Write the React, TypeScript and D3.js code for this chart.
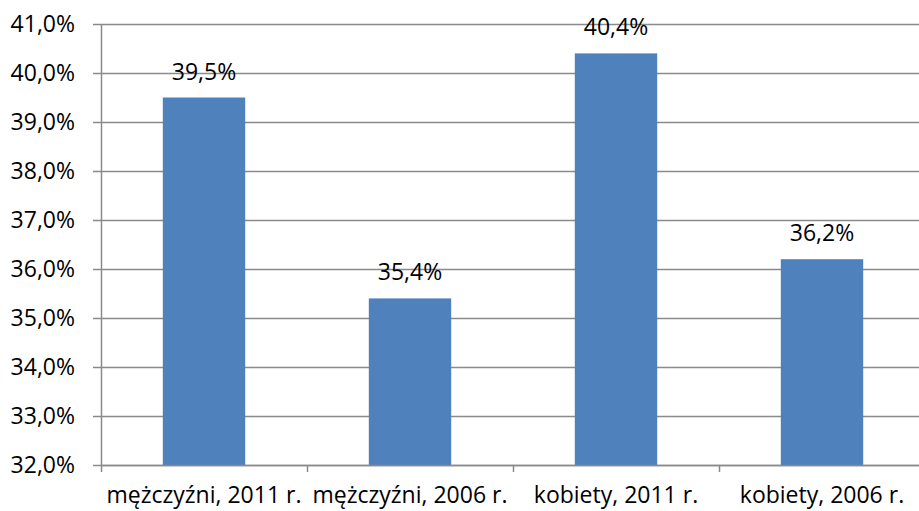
import { useEffect, useRef } from 'react';
import * as d3 from 'd3';

const categories = ['mężczyźni, 2011 r.', 'mężczyźni, 2006 r.', 'kobiety, 2011 r.', 'kobiety, 2006 r.'];
const values = [39.5, 35.4, 40.4, 36.2];
const yTicks = [32, 33, 34, 35, 36, 37, 38, 39, 40, 41];

function App() {
  const ref = useRef<SVGSVGElement>(null);

  useEffect(() => {
    drawChart();
    // eslint-disable-next-line
  }, []);

  function drawChart() {
    const config = { width: 919, height: 511, left: 101, top: 24, bottom: 465, right: 925 };
    const font = '"Open Sans", sans-serif';
    const fontSize = '23px';
    const svg = d3.select(ref.current);
    svg.selectAll('*').remove();

    const xScale = d3.scaleBand<string>()
      .domain(categories)
      .range([config.left, config.right])
      .paddingInner(0.6)
      .paddingOuter(0.3);

    const yScale = d3.scaleLinear()
      .domain([32, 41])
      .range([config.bottom, config.top]);

    const fmt = (v: number) => v.toFixed(1).replace('.', ',') + '%';

    // gridlines + y ticks
    const grid = svg.append('g');
    grid.selectAll('line.grid')
      .data(yTicks)
      .join('line')
      .attr('x1', config.left - 8)
      .attr('x2', config.right)
      .attr('y1', d => yScale(d) + 0.5)
      .attr('y2', d => yScale(d) + 0.5)
      .attr('stroke', '#8a8a8a')
      .attr('stroke-width', 1.5);

    grid.selectAll('text')
      .data(yTicks)
      .join('text')
      .attr('x', 75)
      .attr('y', d => yScale(d))
      .attr('dy', '0.36em')
      .attr('text-anchor', 'end')
      .style('font-family', font)
      .style('font-size', fontSize)
      .attr('fill', '#000')
      .text(d => fmt(d));

    // y axis line
    svg.append('line')
      .attr('x1', config.left + 0.5).attr('x2', config.left + 0.5)
      .attr('y1', config.top).attr('y2', config.bottom)
      .attr('stroke', '#8a8a8a').attr('stroke-width', 1.5);

    // bars
    svg.append('g')
      .selectAll('rect')
      .data(values)
      .join('rect')
      .attr('x', (_, i) => xScale(categories[i])!)
      .attr('width', xScale.bandwidth())
      .attr('y', d => yScale(d))
      .attr('height', d => config.bottom - yScale(d))
      .attr('fill', '#4f81bd');

    // value labels
    svg.append('g')
      .selectAll('text')
      .data(values)
      .join('text')
      .attr('x', (_, i) => xScale(categories[i])! + xScale.bandwidth() / 2)
      .attr('y', d => yScale(d) - 18)
      .attr('text-anchor', 'middle')
      .style('font-family', font)
      .style('font-size', fontSize)
      .attr('fill', '#000')
      .text(d => fmt(d));

    // x axis
    const step = (config.right - config.left) / categories.length;
    const xTicks = d3.range(categories.length + 1).map(i => config.left + i * step);
    svg.append('line')
      .attr('x1', config.left).attr('x2', config.right)
      .attr('y1', config.bottom + 0.5).attr('y2', config.bottom + 0.5)
      .attr('stroke', '#8a8a8a').attr('stroke-width', 1.5);
    svg.append('g')
      .selectAll('line')
      .data(xTicks)
      .join('line')
      .attr('x1', d => d + 0.5).attr('x2', d => d + 0.5)
      .attr('y1', config.bottom).attr('y2', config.bottom + 7)
      .attr('stroke', '#8a8a8a').attr('stroke-width', 1.5);

    svg.append('g')
      .selectAll('text')
      .data(categories)
      .join('text')
      .attr('x', d => xScale(d)! + xScale.bandwidth() / 2)
      .attr('y', 503)
      .attr('text-anchor', 'middle')
      .style('font-family', font)
      .style('font-size', fontSize)
      .attr('fill', '#000')
      .text(d => d);
  }

  return (
    <svg ref={ref} width={919} height={511}
      style={{ position: 'absolute', left: 0, top: 0, background: '#fff' }} />
  );
}

export default App;
